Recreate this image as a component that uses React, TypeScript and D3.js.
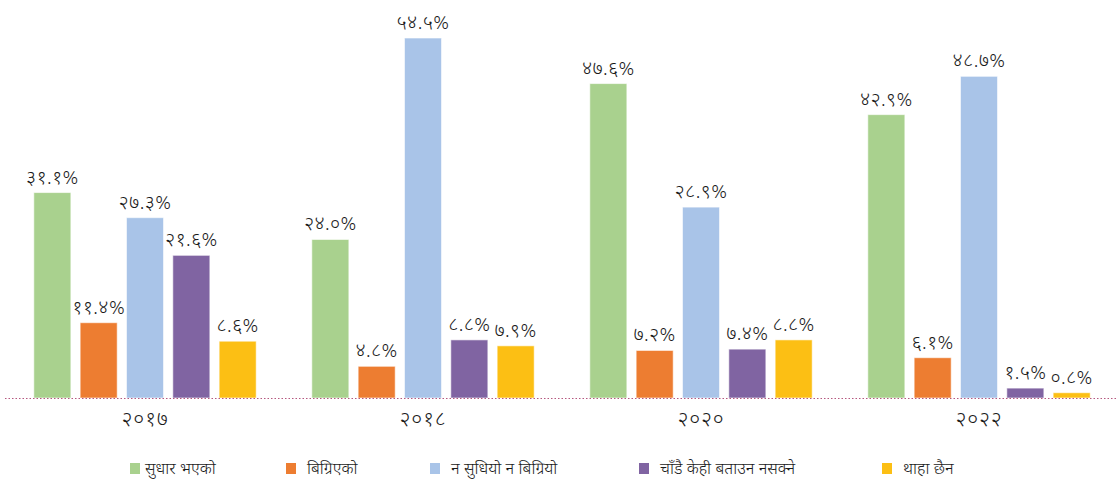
import React from 'react';
import * as d3 from 'd3';

// years (Devanagari numerals)
const years = ['२०१७', '२०१८', '२०२०', '२०२२'];
const seriesNames = ['सुधार भएको', 'बिग्रिएको', 'न सुधियो न बिग्रियो', 'चाँडै  केही बताउन नसक्ने', 'थाहा छैन'];
const colors = ['#a9d18e', '#ed7d31', '#a9c4e8', '#8064a2', '#fcbf14'];

const improved = [31.1, 24.0, 47.6, 42.9];
const worsened = [11.4, 4.8, 7.2, 6.1];
const noChange = [27.3, 54.5, 28.9, 48.7];
const cantSay = [21.6, 8.8, 7.4, 1.5];
const dontKnow = [8.6, 7.9, 8.8, 0.8];
const seriesValues = [improved, worsened, noChange, cantSay, dontKnow];

const W = 1118;
const H = 481;
const baseY = 398;
const font = "'Noto Sans Devanagari', 'Noto Sans', 'DejaVu Sans', sans-serif";

const devDigits = '०१२३४५६७८९';
const toDev = (s: string) => s.replace(/[0-9]/g, (d) => devDigits[+d]);

export default function App() {
  const x0 = d3.scaleBand().domain(years).range([6, 1118]).padding(0);
  const x1 = d3.scaleBand<number>()
    .domain(d3.range(seriesNames.length))
    .range([0, x0.bandwidth()])
    .paddingInner(0.2)
    .paddingOuter(0.6);
  const y = d3.scaleLinear().domain([0, 54.5]).range([baseY, 38]);

  // legend positions
  const legendX = [130, 286, 430, 639, 882];

  return (
    <svg width={W} height={H} style={{ position: 'absolute', left: 0, top: 0, fontFamily: font }}>
      <rect width={W} height={H} fill="#fff" />
      {years.map((yr, gi) => (
        <g key={yr} transform={`translate(${x0(yr)},0)`}>
          {seriesValues.map((vals, si) => {
            const v = vals[gi];
            const bx = x1(si)!;
            const bw = x1.bandwidth();
            return (
              <g key={si}>
                <rect x={bx} y={y(v)} width={bw} height={baseY - y(v)} fill={colors[si]} stroke="#fff" strokeOpacity={0.6} strokeWidth={1} />
                <text
                  x={bx + bw / 2}
                  y={y(v) - 9}
                  textAnchor="middle"
                  fontSize={19.5}
                  fontWeight={300}
                  letterSpacing={0.4}
                  fill="#1a1a1a"
                >
                  {toDev(v.toFixed(1)) + '%'}
                </text>
              </g>
            );
          })}
          <text x={x0.bandwidth() / 2} y={426} textAnchor="middle" fontSize={21} fontWeight={300} letterSpacing={0.8} fill="#1a1a1a">
            {yr}
          </text>
        </g>
      ))}
      <line x1={5} x2={1118} y1={baseY + 0.5} y2={baseY + 0.5} stroke="#b5577f" strokeWidth={1} strokeDasharray="1.5,2" />
      {seriesNames.map((name, i) => (
        <g key={name} transform={`translate(${legendX[i]},463)`}>
          <rect width={10} height={11} fill={colors[i]} />
          <text x={i === 0 ? 15 : 21} y={11} fontSize={16.5} fontWeight={300} fill="#1a1a1a">
            {name}
          </text>
        </g>
      ))}
    </svg>
  );
}
